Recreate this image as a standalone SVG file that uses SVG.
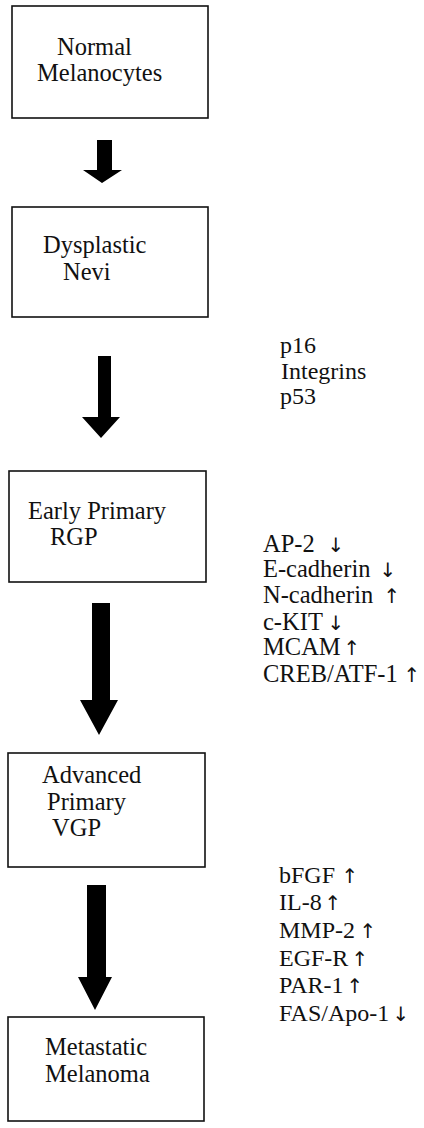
<svg xmlns="http://www.w3.org/2000/svg" width="424" height="1128" viewBox="0 0 424 1128">
<style>
.box{fill:#fff;stroke:#111;stroke-width:1.6}
.t{font-family:"Liberation Serif","Times New Roman",serif;font-size:24.5px;fill:#111}
.r{font-size:24px}
.ar{fill:#000}
.sym{font-family:"DejaVu Sans","Liberation Serif",serif;font-size:20px}
</style>
<rect width="424" height="1128" fill="#fff"/>
<g id="connectors">
<path class="ar" d="M97,140 H112 V170 H122 L102,183 L83,170 H97 Z"/>
<path class="ar" d="M98,356 H111 V417 H120 L101,438 L82,417 H98 Z"/>
<path class="ar" d="M92,603 H110 V700 H118 L99,735 L80,700 H92 Z"/>
<path class="ar" d="M87,885 H106 V977 H112 L95,1010 L78,977 H87 Z"/>
</g>
<g id="n1">
<rect class="box" x="12" y="6" width="196" height="112"/>
<text class="t" x="57" y="55">Normal</text>
<text class="t" x="37" y="81">Melanocytes</text>
</g>
<g id="n2">
<rect class="box" x="12" y="207" width="196" height="110"/>
<text class="t" x="43" y="253">Dysplastic</text>
<text class="t" x="63" y="280">Nevi</text>
</g>
<g id="n3">
<rect class="box" x="9" y="471" width="197" height="111"/>
<text class="t" x="28" y="519">Early Primary</text>
<text class="t" x="50" y="545">RGP</text>
</g>
<g id="n4">
<rect class="box" x="8" y="753" width="197" height="114"/>
<text class="t" x="42" y="783">Advanced</text>
<text class="t" x="47" y="810">Primary</text>
<text class="t" x="52" y="836">VGP</text>
</g>
<g id="n5">
<rect class="box" x="8" y="1017" width="196" height="104"/>
<text class="t" x="45" y="1055">Metastatic</text>
<text class="t" x="45" y="1082">Melanoma</text>
</g>
<g id="markers1">
<text class="t r" x="280" y="353">p16</text>
<text class="t r" x="281" y="379">Integrins</text>
<text class="t r" x="280" y="404">p53</text>
</g>
<g id="markers2">
<text class="t" x="263" y="552">AP-2<tspan class="sym" x="336" text-anchor="middle">↓</tspan></text>
<text class="t" x="263" y="577">E-cadherin<tspan class="sym" x="388" text-anchor="middle">↓</tspan></text>
<text class="t" x="263" y="603">N-cadherin<tspan class="sym" x="392" text-anchor="middle">↑</tspan></text>
<text class="t" x="263" y="630">c-KIT<tspan class="sym" x="336" text-anchor="middle">↓</tspan></text>
<text class="t" x="263" y="655">MCAM<tspan class="sym" x="352" text-anchor="middle">↑</tspan></text>
<text class="t" x="263" y="682">CREB/ATF-1<tspan class="sym" x="412" text-anchor="middle">↑</tspan></text>
</g>
<g id="markers3">
<text class="t r" x="279" y="883">bFGF<tspan class="sym" x="350" text-anchor="middle">↑</tspan></text>
<text class="t r" x="279" y="910">IL-8<tspan class="sym" x="333" text-anchor="middle">↑</tspan></text>
<text class="t r" x="279" y="938">MMP-2<tspan class="sym" x="368" text-anchor="middle">↑</tspan></text>
<text class="t r" x="279" y="966">EGF-R<tspan class="sym" x="360" text-anchor="middle">↑</tspan></text>
<text class="t r" x="279" y="993">PAR-1<tspan class="sym" x="355" text-anchor="middle">↑</tspan></text>
<text class="t r" x="279" y="1021">FAS/Apo-1<tspan class="sym" x="401" text-anchor="middle">↓</tspan></text>
</g>
</svg>
